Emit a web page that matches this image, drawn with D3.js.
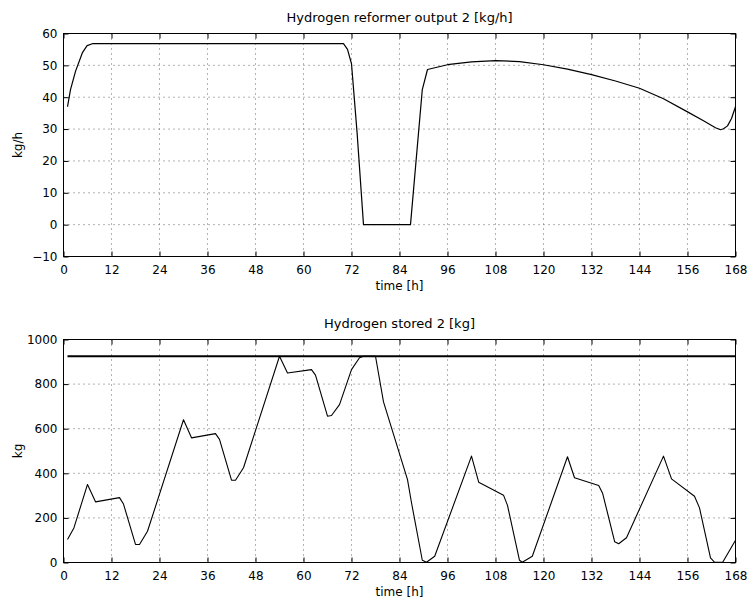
<!DOCTYPE html>
<html lang="en">
  <head>
    <meta charset="UTF-8" />
    <title>Hydrogen reformer</title>
    <script src="https://d3js.org/d3.v7.min.js"></script>
    <style>
      body {
        margin: 0;
        background: #fff;
      }
      svg text {
        font-family: "DejaVu Sans", "Liberation Sans", Arial, sans-serif;
      }
      .tick text {
        font-size: 12px;
        fill: #000;
      }
      .grid line {
        stroke: #666;
        stroke-width: 1;
        stroke-dasharray: 1, 4;
      }
    </style>
  </head>
  <body>
    <div id="chart"></div>
    <script>
      const hourTicks = [0, 12, 24, 36, 48, 60, 72, 84, 96, 108, 120, 132, 144, 156, 168];

      // reformer output [kg/h], read at these hours
      const reformerHours = [1, 1.75, 3, 4.7, 5.9, 7.2, 70, 71, 72, 73.4, 75, 86.75, 89.7, 91, 96, 102, 108, 114, 120, 126, 132, 138, 144, 150, 156, 160, 163, 164.25, 165, 166, 167, 168];
      const reformerValues = [37, 42.4, 48.1, 53.9, 56.2, 56.8, 56.8, 55, 50.5, 28.8, 0, 0, 42.4, 48.7, 50.2, 51.1, 51.5, 51.2, 50.2, 48.8, 47.1, 45.1, 42.8, 39.5, 35.4, 32.6, 30.4, 29.8, 30.1, 31, 33.3, 37];
      const reformerTicks = [-10, 0, 10, 20, 30, 40, 50, 60];

      // stored hydrogen [kg]
      const storedHours = [1, 2.6, 6, 8, 14, 15, 18, 19, 21, 30, 32, 38, 39, 42, 43, 45, 54, 56, 62, 63, 66, 67, 69, 72, 74, 75, 78, 80, 86, 87, 89.7, 90.75, 92.8, 102, 103.8, 110, 111, 114, 114.7, 117.2, 126, 127.75, 133.8, 134.8, 137.8, 138.8, 140.75, 150, 152, 157.75, 159, 161.75, 162.8, 164.8, 168];
      const storedValues = [103, 155, 350, 272, 291, 262, 81, 81, 140, 640, 559, 578, 552, 369, 369, 425, 925, 850, 865, 840, 656, 659, 708, 865, 918, 925, 925, 720, 372, 268, 10, 1, 28, 477, 360, 302, 256, 10, 1, 28, 474, 380, 345, 309, 93, 84, 111, 477, 375, 297, 245, 21, 1, 1, 100];
      const storedTicks = [0, 200, 400, 600, 800, 1000];
      const storageCap = 925;
      const capHours = [1, 168];

      const W = 747;
      const H = 605;

      const svg = d3
        .select("#chart")
        .append("svg")
        .attr("width", W)
        .attr("height", H);

      const drawPanel = (opts) => {
        const { top, bottom, left, right } = opts;
        const g = svg.append("g");

        const x = d3.scaleLinear().domain([0, 168]).range([left, right]);
        const y = d3.scaleLinear().domain(opts.yDomain).range([bottom, top]);

        // dotted grid
        const grid = g.append("g").attr("class", "grid");
        grid
          .selectAll("line.v")
          .data(hourTicks.slice(1, -1))
          .enter()
          .append("line")
          .attr("x1", (d) => x(d))
          .attr("x2", (d) => x(d))
          .attr("y1", top)
          .attr("y2", bottom);
        grid
          .selectAll("line.h")
          .data(opts.yTicks.slice(1, -1))
          .enter()
          .append("line")
          .attr("x1", left)
          .attr("x2", right)
          .attr("y1", (d) => y(d))
          .attr("y2", (d) => y(d));

        // axes, ticks pointing inward on all four sides
        g.append("g")
          .attr("transform", `translate(0,${bottom})`)
          .call(d3.axisBottom(x).tickValues(hourTicks).tickSize(-5).tickPadding(9))
          .call((s) => s.select(".domain").remove());
        g.append("g")
          .attr("transform", `translate(0,${top})`)
          .call(d3.axisTop(x).tickValues(hourTicks).tickSize(-5).tickFormat(""))
          .call((s) => s.select(".domain").remove());
        g.append("g")
          .attr("transform", `translate(${left},0)`)
          .call(
            d3
              .axisLeft(y)
              .tickValues(opts.yTicks)
              .tickSize(-5)
              .tickPadding(6)
              .tickFormat((d) => (d < 0 ? "\u2212" + Math.abs(d) : d))
          )
          .call((s) => s.select(".domain").remove());
        g.append("g")
          .attr("transform", `translate(${right},0)`)
          .call(d3.axisRight(y).tickValues(opts.yTicks).tickSize(-5).tickFormat(""))
          .call((s) => s.select(".domain").remove());

        g.selectAll(".tick line").attr("stroke", "#000");

        g.append("rect")
          .attr("x", left)
          .attr("y", top)
          .attr("width", right - left)
          .attr("height", bottom - top)
          .attr("fill", "none")
          .attr("stroke", "#000")
          .attr("stroke-width", 1);

        // series
        const line = d3
          .line()
          .x((d) => x(d[0]))
          .y((d) => y(d[1]));

        opts.series.forEach((s) => {
          g.append("path")
            .datum(d3.zip(s.hours, s.values))
            .attr("fill", "none")
            .attr("stroke", "#000")
            .attr("stroke-width", s.width)
            .attr("stroke-linejoin", "round")
            .attr("d", line);
        });

        // labels
        g.append("text")
          .attr("x", (left + right) / 2)
          .attr("y", top - 12)
          .attr("text-anchor", "middle")
          .style("font-size", "13px")
          .text(opts.title);
        g.append("text")
          .attr("x", (left + right) / 2)
          .attr("y", bottom + 33)
          .attr("text-anchor", "middle")
          .style("font-size", "12px")
          .text("time [h]");
        g.append("text")
          .attr("transform", `translate(22,${(top + bottom) / 2}) rotate(-90)`)
          .attr("text-anchor", "middle")
          .style("font-size", "12px")
          .text(opts.yLabel);
      };

      drawPanel({
        top: 33.5,
        bottom: 256.5,
        left: 63.5,
        right: 735.5,
        yDomain: [-10, 60],
        yTicks: reformerTicks,
        title: "Hydrogen reformer output 2 [kg/h]",
        yLabel: "kg/h",
        series: [{ hours: reformerHours, values: reformerValues, width: 1.2 }],
      });

      drawPanel({
        top: 339.5,
        bottom: 562.5,
        left: 63.5,
        right: 735.5,
        yDomain: [0, 1000],
        yTicks: storedTicks,
        title: "Hydrogen stored 2 [kg]",
        yLabel: "kg",
        series: [
          { hours: storedHours, values: storedValues, width: 1.1 },
          { hours: capHours, values: capHours.map(() => storageCap), width: 2.2 },
        ],
      });
    </script>
  </body>
</html>
